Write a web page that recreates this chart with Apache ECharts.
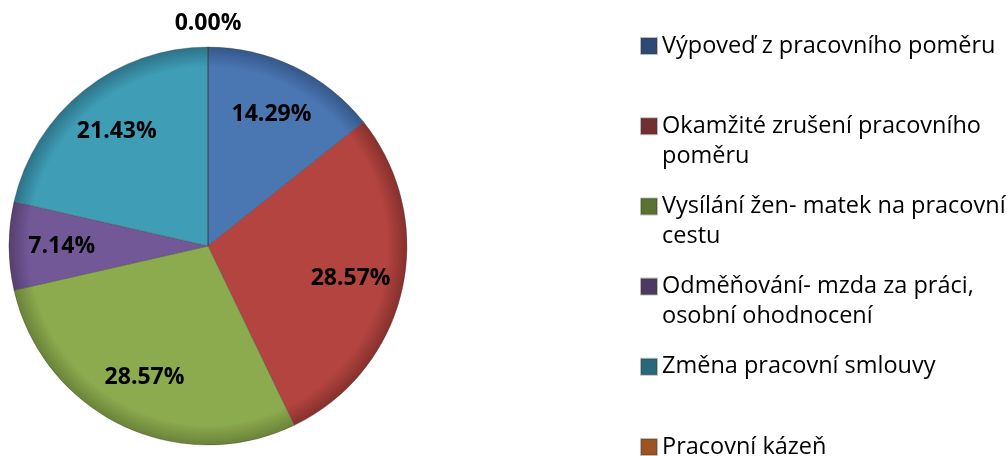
<!DOCTYPE html>
<html>
<head>
<meta charset="utf-8">
<script src="https://cdn.jsdelivr.net/npm/echarts@6/dist/echarts.min.js"></script>
<style>html,body{margin:0;padding:0;background:#fff;}#c{width:1008px;height:456px;}</style>
</head>
<body>
<div id="c"></div>
<script>
const categories = [
  'Výpoveď z pracovního poměru',
  'Okamžité zrušení pracovního poměru',
  'Vysílání žen- matek na pracovní cestu',
  'Odměňování- mzda za práci, osobní ohodnocení',
  'Změna pracovní smlouvy',
  'Pracovní kázeň'
];
const values = [14.29, 28.57, 28.57, 7.14, 21.43, 0.00];
const legendLabels = [
  'Výpoveď z pracovního poměru',
  'Okamžité zrušení pracovního\npoměru',
  'Vysílání žen- matek na pracovní\ncestu',
  'Odměňování- mzda za práci,\nosobní ohodnocení',
  'Změna pracovní smlouvy',
  'Pracovní kázeň'
];
const sliceColors = ['#4A76B2', '#B4443F', '#8CAA4E', '#735898', '#3F9DB6', '#E0883A'];
const sliceEdge   = ['#35578A', '#86302D', '#6A8338', '#54406F', '#2C7388', '#A85E20'];
const legendColors = ['#2C4A74', '#732F2D', '#5B7331', '#4C3A63', '#25697A', '#9E5420'];

const CX = 208, CY = 246, R = 199;

const chart = echarts.init(document.getElementById('c'), null, {renderer: 'canvas'});

const data = categories.map((name, i) => ({
  name: name,
  value: values[i],
  itemStyle: {
    color: {
      type: 'radial', x: CX, y: CY, r: R, global: true,
      colorStops: [
        {offset: 0, color: sliceColors[i]},
        {offset: 0.9, color: sliceColors[i]},
        {offset: 1, color: sliceEdge[i]}
      ]
    }
  }
}));

const option = {
  animation: false,
  backgroundColor: '#ffffff',
  legend: {
    orient: 'vertical',
    left: 640,
    top: 1,
    height: 600,
    padding: 0,
    itemGap: -9.8,
    itemWidth: 16,
    itemHeight: 16,
    icon: 'rect',
    selectedMode: false,
    data: categories.map((name, i) => ({name: name, itemStyle: {color: legendColors[i]}})),
    formatter: function (name) {
      const t = legendLabels[categories.indexOf(name)];
      return ' \n' + (t.indexOf('\n') >= 0 ? t : t + '\n ');
    },
    textStyle: {
      fontFamily: 'Open Sans',
      fontSize: 23.5,
      lineHeight: 30,
      color: '#000'
    }
  },
  series: [{
    type: 'pie',
    center: [CX, CY],
    radius: [0, R],
    startAngle: 90,
    clockwise: true,
    avoidLabelOverlap: false,
    minShowLabelAngle: 0,
    itemStyle: {borderColor: 'rgba(60,60,60,0.35)', borderWidth: 1},
    label: {
      show: true,
      position: 'inside',
      fontFamily: 'Open Sans',
      fontWeight: 'bold',
      fontSize: 23,
      color: '#000',
      formatter: function (p) { return p.value.toFixed(2) + '%'; }
    },
    labelLine: {show: false},
    emphasis: {disabled: true},
    labelLayout: function (params) {
      const lr = params.labelRect;
      const lx = lr.x + lr.width / 2, ly = lr.y + lr.height / 2;
      let dx = lx - CX, dy = ly - CY;
      let d = Math.sqrt(dx * dx + dy * dy);
      if (d < 1) { dx = 0; dy = -1; d = 1; }
      const dist = values[params.dataIndex] === 0 ? R + 24 : R * 0.735;
      return {x: CX + dx / d * dist, y: CY + dy / d * dist, align: 'center', verticalAlign: 'middle'};
    },
    data: data
  }]
};
chart.setOption(option);
</script>
</body>
</html>
